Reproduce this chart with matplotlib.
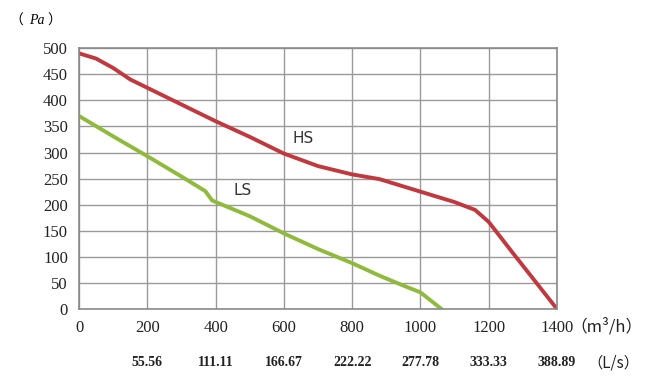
import matplotlib.pyplot as plt
import matplotlib.transforms as mtransforms

# fan curves
hs_flow = [0, 50, 100, 150, 200, 300, 400, 500, 600, 700, 800, 880, 1000, 1100, 1160, 1200, 1270, 1340, 1400]
hs_pres = [490, 480, 462, 440, 424, 392, 360, 330, 298, 274, 258, 249, 225, 205, 190, 167, 108, 50, 0]

ls_flow = [0, 100, 200, 300, 370, 390, 500, 600, 700, 800, 880, 950, 1000, 1062]
ls_pres = [370, 331, 293, 254, 226, 208, 178, 145, 115, 88, 64, 45, 32, 0]

x_ticks = [0, 200, 400, 600, 800, 1000, 1200, 1400]
ls_labels = ["55.56", "111.11", "166.67", "222.22", "277.78", "333.33", "388.89"]

plt.rcParams['font.family'] = ['Liberation Serif', 'Noto Sans CJK SC']

fig = plt.figure(figsize=(6.54, 3.76), dpi=100)
ax = fig.add_axes([0.1208, 0.178, 0.7309, 0.694])

ax.plot(hs_flow, hs_pres, color='#c2383f', lw=2.8, solid_capstyle='round',
        solid_joinstyle='round')
ax.plot(ls_flow, ls_pres, color='#8fba3c', lw=2.8, solid_capstyle='round',
        solid_joinstyle='round')

ax.text(655, 327, "HS", fontsize=11, family='DejaVu Sans', color='#333333',
        ha='center', va='center')
ax.text(480, 228, "LS", fontsize=11, family='DejaVu Sans', color='#333333',
        ha='center', va='center')

ax.set_xlim(0, 1400)
ax.set_ylim(0, 500)
ax.set_xticks(x_ticks)
ax.set_yticks(range(0, 501, 50))
ax.grid(True, color='#9a9a9a', lw=1.0)
ax.set_axisbelow(True)
for s in ax.spines.values():
    s.set_color('#8a8a8a')
    s.set_linewidth(1.2)
ax.tick_params(length=0, labelsize=12, pad=8, colors='#222222')

fig.text(0.015, 0.945, "（", fontsize=10, va='center', ha='left',
         family=['Noto Sans CJK SC'])
fig.text(0.045, 0.945, "Pa", fontsize=10, style='italic', va='center', ha='left')
fig.text(0.072, 0.945, "）", fontsize=10, va='center', ha='left',
         family=['Noto Sans CJK SC'])

trans = mtransforms.blended_transform_factory(ax.transData, fig.transFigure)
for xv, lab in zip(x_ticks[1:], ls_labels):
    ax.text(xv, 0.035, lab, transform=trans, fontsize=10, fontweight='bold',
            ha='center', va='center', color='#222222')
ax.text(1440, 0.13, "（m³/h）", transform=trans, fontsize=12, ha='left', va='center',
        color='#222222', family=['Noto Sans CJK SC'])
ax.text(1490, 0.035, "（L/s）", transform=trans, fontsize=11, ha='left', va='center',
        color='#222222', family=['Noto Sans CJK SC'])

fig.savefig("out.png", dpi=100, facecolor='white')
